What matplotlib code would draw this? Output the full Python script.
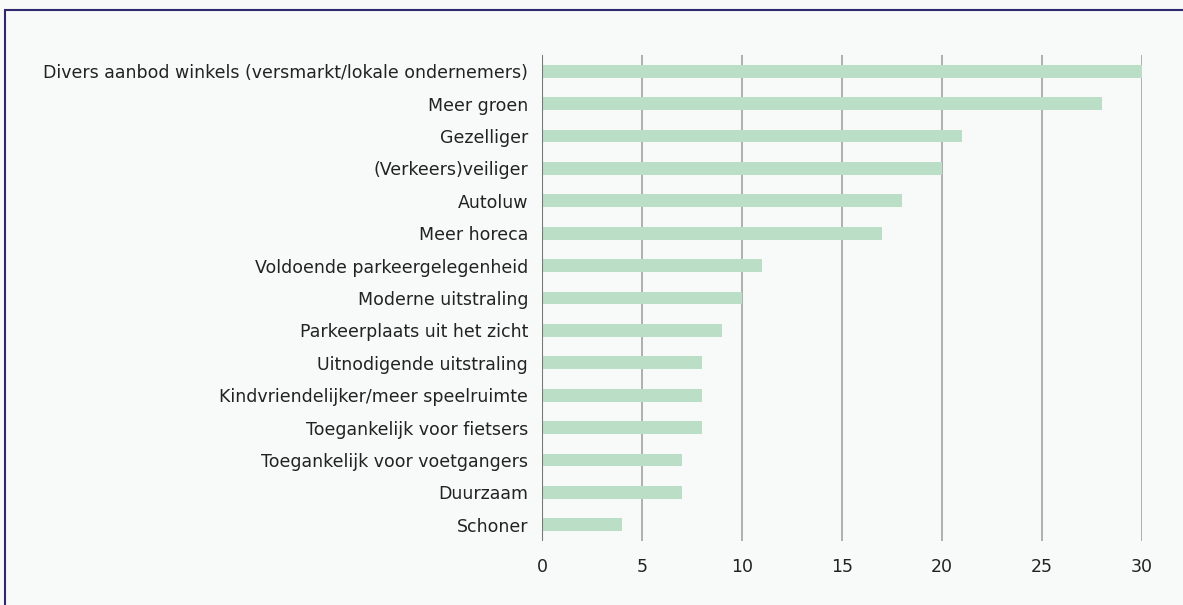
import matplotlib.pyplot as plt
from matplotlib.patches import Rectangle

categories = [
    'Divers aanbod winkels (versmarkt/lokale ondernemers)',
    'Meer groen',
    'Gezelliger',
    '(Verkeers)veiliger',
    'Autoluw',
    'Meer horeca',
    'Voldoende parkeergelegenheid',
    'Moderne uitstraling',
    'Parkeerplaats uit het zicht',
    'Uitnodigende uitstraling',
    'Kindvriendelijker/meer speelruimte',
    'Toegankelijk voor fietsers',
    'Toegankelijk voor voetgangers',
    'Duurzaam',
    'Schoner',
]
values = [30, 28, 21, 20, 18, 17, 11, 10, 9, 8, 8, 8, 7, 7, 4]
xticks = [0, 5, 10, 15, 20, 25, 30]

plt.rcParams['font.family'] = ['DejaVu Sans']

bg = '#f8f9f9'
fig = plt.figure(figsize=(11.83, 6.05), dpi=100, facecolor=bg)
ax = fig.add_axes([542 / 1183, 1 - 541 / 605, 600 / 1183, 486 / 605])
ax.set_facecolor(bg)

# frame around the whole graphic
fig.patches.append(Rectangle((5 / 1183, -0.05), 1.2, 1 - 10 / 605 + 0.05,
                             transform=fig.transFigure, fill=False,
                             edgecolor='#2e2a6e', linewidth=1.5, zorder=0))

pos = list(range(len(categories)))
ax.barh(pos, values, height=0.4, color='#bbdec6', zorder=3)

ax.set_xlim(0, 30)
ax.set_ylim(len(categories) - 0.5, -0.5)
ax.set_xticks(xticks)
ax.set_yticks(pos)
ax.set_yticklabels(categories, va='center_baseline')

ax.grid(axis='x', color='#9a9a9a', linewidth=1.1, zorder=0)
ax.axvline(0, color='#777777', linewidth=1.5, zorder=4)
for s in ax.spines.values():
    s.set_visible(False)
ax.tick_params(axis='both', length=0, labelsize=12.5, colors='#222222')
ax.tick_params(axis='y', pad=10)
ax.tick_params(axis='x', pad=12)

fig.savefig('out.png', dpi=100, facecolor=bg)
